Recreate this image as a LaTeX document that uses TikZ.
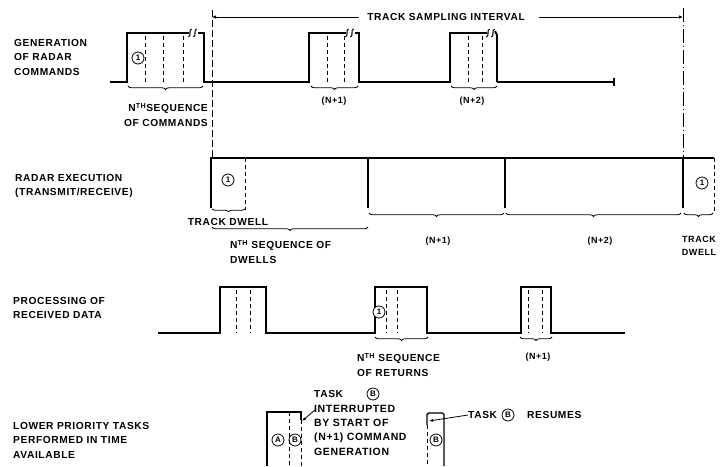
\documentclass[tikz,border=0pt]{standalone}
\usepackage{fontspec}
\setmainfont{Liberation Sans}[LetterSpace=6]
\usetikzlibrary{arrows.meta,decorations.pathreplacing}
\begin{document}
\begin{tikzpicture}[x=1pt,y=-1pt,
  every node/.style={font=\fontsize{10.2}{14.5}\selectfont\bfseries,inner sep=0pt},
  sig/.style={line width=1.4pt,line join=miter},
  dsh/.style={line width=0.9pt,dash pattern=on 4pt off 3pt},
  brc/.style={line width=0.8pt,decorate,decoration={brace,mirror,amplitude=3.5pt}},
  circ/.style={circle,draw,line width=0.8pt,minimum size=12pt,inner sep=0pt,font=\fontsize{8}{8}\selectfont\bfseries},
  lab/.style={anchor=west,align=left},
  sml/.style={font=\fontsize{9}{11}\selectfont\bfseries},
  brk/.style={line width=1.1pt}]
\useasboundingbox (0,0) rectangle (722,466);
\fill[white] (0,0) rectangle (722,466);

% ---- left labels
\node[lab] (l1) at (14,57) {GENERATION\\OF RADAR\\COMMANDS};
\node[lab] (l2) at (15,186) {RADAR EXECUTION\\(TRANSMIT/RECEIVE)};
\node[lab] (l3) at (13,308) {PROCESSING OF\\RECEIVED DATA};
\node[lab] (l4) at (13,440) {LOWER PRIORITY TASKS\\PERFORMED IN TIME\\AVAILABLE};

% ---- track sampling interval
\coordinate (tsL) at (212,17);
\coordinate (tsR) at (683,17);
\node (ts) at (446,17) {TRACK SAMPLING INTERVAL};
\draw[line width=0.8pt,dash pattern=on 7pt off 3pt] (212,10) -- (212,157);
\draw[line width=0.9pt,dash pattern=on 14pt off 3pt on 1pt off 3pt] (683,8) -- (683,157);
\draw[line width=0.8pt,{Latex[length=4pt,width=3.5pt]}-] (tsL) -- ([xshift=-8pt]ts.west);
\draw[line width=0.8pt,-{Latex[length=4pt,width=3.5pt]}] ([xshift=14pt]ts.east) -- (tsR);

% ---- row 1: generation of radar commands
\draw[sig] (110,82) -- (127,82) -- (127,33) -- (189,33);
\draw[sig] (198,33) -- (204,33) -- (204,82) -- (309,82) -- (309,33) -- (346,33);
\draw[sig] (355,33) -- (359,33) -- (359,82) -- (450,82) -- (450,33) -- (487,33);
\draw[line width=1.9pt] (495,31) -- (497,35) -- (497,82);
\draw[line width=1.9pt] (497,82) -- (614,82);
\draw[line width=1.1pt] (614,78) -- (614,86);
% break marks
\foreach \bx in {190,195,347,352,488,493}{
  \draw[brk] (\bx-1.5,37) .. controls (\bx+1.5,36) and (\bx-1.5,30) .. (\bx+1.5,29);
}
\foreach \dx in {145,163,183}{\draw[dsh] (\dx,36) -- (\dx,82);}
\foreach \dx in {327,344}{\draw[dsh] (\dx,36) -- (\dx,82);}
\foreach \dx in {468,482}{\draw[dsh] (\dx,36) -- (\dx,82);}
\node[circ] (c1) at (138,58) {1};
\draw[brc] (128,86) -- (203,86);
\draw[brc] (311,86) -- (358,86);
\draw[brc] (451,86) -- (497,86);
\node[anchor=east,align=right] (n1) at (208,115) {N\textsuperscript{TH}SEQUENCE\\OF COMMANDS};
\node[sml] (p1) at (334,101) {(N+1)};
\node[sml] (p2) at (472,101) {(N+2)};

% ---- row 2: radar execution
\draw[sig] (211,208) -- (211,158) -- (714,158);
\draw[sig] (368,158) -- (368,208);
\draw[sig] (505,158) -- (505,208);
\draw[sig] (683,157) -- (683,208);
\draw[dsh] (245,158) -- (245,210);
\draw[dsh] (714,158) -- (714,212);
\node[circ] (c2) at (228,180) {1};
\node[circ] (c3) at (702,183) {1};
\draw[brc,decoration={amplitude=2.5pt}] (212,209) -- (245,209);
\node (td1) at (228,222) {TRACK DWELL};
\draw[brc] (212,227) -- (368,227);
\node[lab] (n2) at (230,252) {N\textsuperscript{TH} SEQUENCE OF\\DWELLS};
\draw[brc] (369,213) -- (504,213);
\draw[brc] (506,213) -- (681,213);
\draw[brc] (684,213) -- (713,213);
\node[sml] (p3) at (438,241) {(N+1)};
\node[sml] (p4) at (600,241) {(N+2)};
\node[align=center,font=\fontsize{9}{12.5}\selectfont\bfseries] (td2) at (699,246) {TRACK\\DWELL};

% ---- row 3: processing of received data
\draw[sig] (158,333) -- (220,333) -- (220,287) -- (266,287) -- (266,333) -- (375,333)
  -- (375,287) -- (427,287) -- (427,333) -- (521,333) -- (521,287) -- (551,287)
  -- (551,333) -- (625,333);
\foreach \dx in {236,250,386,397,528,542}{\draw[dsh] (\dx,290) -- (\dx,333);}
\node[circ,fill=white] (c4) at (379,312) {1};
\draw[brc] (375,337) -- (428,337);
\draw[brc] (520,337) -- (552,337);
\node[lab] (n3) at (357,365) {N\textsuperscript{TH} SEQUENCE\\OF RETURNS};
\node[sml] (p5) at (538,357) {(N+1)};

% ---- row 4: lower priority tasks
\draw[sig] (267,466) -- (267,412) -- (301,412) -- (301,420);
\draw[dsh] (301,420) -- (301,466);
\draw[dsh] (289,412) -- (289,466);
\node[circ] (cA) at (278,440) {A};
\node[circ] (cB1) at (295,440) {B};
\node[anchor=west] (t1) at (314,394) {TASK};
\node[circ] (cB2) at (373,394) {B};
\node[lab,font=\fontsize{10.5}{14.3}\selectfont\bfseries] (t2) at (314,430) {INTERRUPTED\\BY START OF\\(N+1) COMMAND\\GENERATION};
\coordinate (ar1) at (302,421);
\draw[line width=0.8pt,-{Latex[length=4pt,width=3pt]}] (315,410) -- (ar1);

\draw[sig,rounded corners=1.5pt] (427,425) -- (427,413) -- (444,413) -- (444,466);
\draw[dsh] (427,425) -- (427,466);
\node[circ] (cB3) at (436,440) {B};
\node[anchor=west] (r1) at (468,415) {TASK};
\node[circ] (cB4) at (508,415) {B};
\node[anchor=west] (r2) at (527,415) {RESUMES};
\coordinate (ar2) at (429,421);
\draw[line width=0.8pt,-{Latex[length=4pt,width=3pt]}] (r1.west) -- (ar2);
\end{tikzpicture}
\end{document}
